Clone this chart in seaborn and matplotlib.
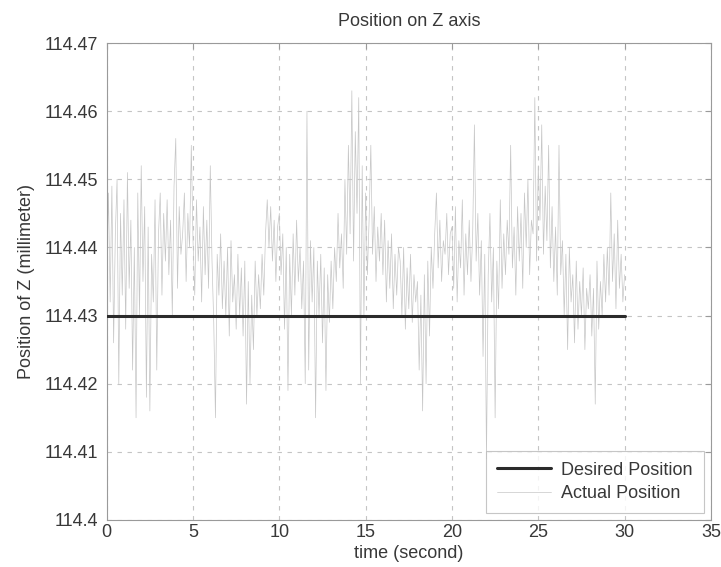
import numpy as np
import pandas as pd
import matplotlib
matplotlib.use("Agg")
import matplotlib.pyplot as plt
import seaborn as sns

# Measured Z position, sampled every 0.1 s, stored as deviation from the
# set point in micrometres (one row per second).
dt = 0.1
desired_z = 114.43
actual_offset_um = [
    6, 18, 2, 19, -4, 12, 20, -10, 15, 3,
    17, -2, 21, 4, 14, -8, 10, -15, 18, 0,
    22, 5, 16, -12, 13, -14, 9, 2, 17, -8,
    12, 18, 3, 15, 8, 17, 6, 14, 0, 19,
    26, 4, 16, 9, 12, 18, 5, 15, 10, 25,
    11, 3, 17, 8, 13, 2, 16, 6, 14, 4,
    22, 8, -1, -15, 9, 3, 12, 1, 8, 0,
    10, -3, 11, 2, 6, -2, 9, 0, 7, -3,
    8, -13, 5, -10, 3, -5, 8, 0, 6, 1,
    9, 3, 12, 17, 10, 16, 8, 14, 5, 13,
    15, 6, 12, -2, 10, -11, 9, 0, 12, 3,
    14, 5, 10, 1, 8, -10, 30, -8, 11, 2,
    10, -15, 8, 0, 9, -4, 7, -11, 6, -1,
    8, 1, 10, 5, 15, 7, 12, 4, 20, 9,
    25, 12, 33, 8, 27, 15, 32, -10, 22, 0,
    18, 6, 14, 25, 9, 16, 5, 13, 8, 15,
    6, 14, 2, 11, 4, 12, 1, 9, 3, 10,
    8, 0, 10, -2, 7, 1, 9, -1, 6, 2,
    5, -8, 3, -14, 6, -10, 8, -3, 10, 4,
    12, 18, 7, 14, 5, 11, 9, 15, 6, 12,
    13, 4, 16, 2, 11, 7, 17, 3, 12, 6,
    14, 5, 12, 28, 8, 15, 3, 11, -6, 9,
    -21, 6, 15, 2, 10, -15, 8, 1, 17, 4,
    12, 6, 14, 9, 25, 7, 13, 3, 16, 8,
    15, 4, 18, 10, 20, 6, 14, 12, 32, 8,
    22, 14, 28, 9, 19, 11, 25, 7, 16, 5,
    13, 3, 25, 6, 11, 0, 9, -5, 10, 2,
    6, -4, 8, -2, 5, 0, 7, -5, 4, 1,
    6, -3, 4, -13, 8, -2, 5, 0, 9, 2,
    10, 3, 18, 5, 12, 1, 14, 4, 9, 2,
    6,
]
x_ticks = [0, 5, 10, 15, 20, 25, 30, 35]
y_ticks = [114.40, 114.41, 114.42, 114.43, 114.44, 114.45, 114.46, 114.47]
y_tick_labels = ["114.4", "114.41", "114.42", "114.43",
                 "114.44", "114.45", "114.46", "114.47"]

t = np.arange(len(actual_offset_um)) * dt
df = pd.DataFrame({
    "time": t,
    "actual": desired_z + np.array(actual_offset_um) / 1000.0,
    "desired": np.full(len(t), desired_z),
})

sns.set_style("white")
plt.rcParams["font.family"] = ["Liberation Sans", "DejaVu Sans"]
fs = 13

fig = plt.figure(figsize=(7.21, 5.67), dpi=100)
ax = fig.add_axes([0.148, 0.083, 0.838, 0.841])

sns.lineplot(data=df, x="time", y="desired", ax=ax, color="#2b2b2b",
             linewidth=2.2, label="Desired Position", zorder=3)
sns.lineplot(data=df, x="time", y="actual", ax=ax, color="#c6c6c6",
             linewidth=0.5, label="Actual Position", zorder=2)

ax.set_xlim(0, 35)
ax.set_ylim(114.40, 114.47)
ax.set_xticks(x_ticks)
ax.set_xticklabels([str(v) for v in x_ticks])
ax.set_yticks(y_ticks)
ax.set_yticklabels(y_tick_labels)

ax.grid(True, linestyle=(0, (4, 5)), color="#c4c4c4", linewidth=0.8)
ax.set_axisbelow(True)
for s in ax.spines.values():
    s.set_visible(True)
    s.set_color("#9a9a9a")
    s.set_linewidth(0.8)
ax.tick_params(direction="in", length=4, color="#9a9a9a",
               labelcolor="#383838", labelsize=fs, top=True, right=True)
ax.tick_params(axis="y", pad=6)
ax.tick_params(axis="x", pad=3)

ax.set_title("Position on Z axis", fontsize=fs, color="#383838", pad=12)
ax.set_xlabel("time (second)", fontsize=fs, color="#383838", labelpad=3)
ax.set_ylabel("Position of Z (millimeter)", fontsize=fs, color="#383838",
              labelpad=7)

leg = ax.legend(loc="lower right", frameon=True, fancybox=False,
                handlelength=3.0, handletextpad=0.55, borderaxespad=0.4,
                fontsize=fs, labelspacing=0.35, borderpad=0.6)
leg.get_frame().set_edgecolor("#b8b8b8")
leg.get_frame().set_linewidth(0.8)
for txt in leg.get_texts():
    txt.set_color("#383838")

fig.savefig("out.png", dpi=100, facecolor="white")
